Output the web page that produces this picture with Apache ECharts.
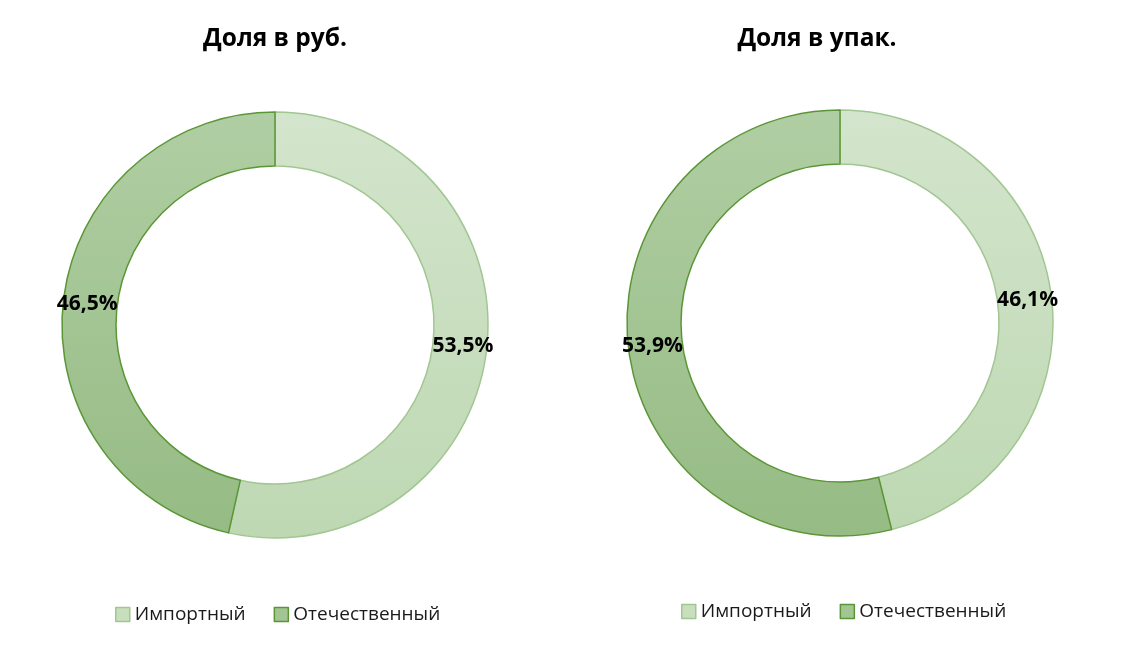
<!DOCTYPE html>
<html>
<head>
<meta charset="utf-8">
<script src="https://cdn.jsdelivr.net/npm/echarts@6/dist/echarts.min.js"></script>
<style>
  html, body { margin: 0; padding: 0; background: #fff; }
  #main { width: 1125px; height: 647px; }
</style>
</head>
<body>
<div id="main"></div>
<script>
var categories = ['Импортный', 'Отечественный'];
var titles = ['Доля в руб.', 'Доля в упак.'];
var rubValues = [53.5, 46.5];
var packValues = [46.1, 53.9];

var myChart = echarts.init(document.getElementById('main'));

function grad(top, bottom) {
    return new echarts.graphic.LinearGradient(0, 0, 0, 1, [
        { offset: 0, color: top },
        { offset: 1, color: bottom }
    ]);
}

var styles = [
    { color: grad('#d3e5cc', '#bed8b3'), borderColor: '#a2c692' },
    { color: grad('#b0cea3', '#96bb84'), borderColor: '#5a9636' }
];

function buildData(values) {
    return categories.map(function (name, i) {
        return {
            name: name,
            value: values[i],
            itemStyle: { color: styles[i].color, borderColor: styles[i].borderColor, borderWidth: 1.5 }
        };
    });
}

function fmt(p) {
    return p.value.toFixed(1).replace('.', ',') + '%';
}

var fontFamily = '"Open Sans", "Noto Sans", sans-serif';

var legendIcons = categories.map(function (name, i) {
    return {
        name: name,
        itemStyle: { color: i === 0 ? '#c8dfbe' : '#a3c594', borderColor: styles[i].borderColor, borderWidth: 1.5 }
    };
});

var titleStyle = { fontFamily: fontFamily, fontSize: 24.5, fontWeight: 'bold', color: '#000' };
var legendText = { fontFamily: fontFamily, fontSize: 19, color: '#1a1a1a' };

var option = {
    backgroundColor: '#fff',
    title: [
        { text: titles[0], left: 270, top: 22, textAlign: 'center', textStyle: titleStyle },
        { text: titles[1], left: 812, top: 22, textAlign: 'center', textStyle: titleStyle }
    ],
    legend: [
        { data: legendIcons, left: 110, top: 600, itemWidth: 14, itemHeight: 14, itemGap: 28,
          icon: 'rect', selectedMode: false, textStyle: legendText },
        { data: legendIcons, left: 676, top: 597, itemWidth: 14, itemHeight: 14, itemGap: 28,
          icon: 'rect', selectedMode: false, textStyle: legendText }
    ],
    series: [
        {
            type: 'pie',
            center: [275, 325],
            radius: [159, 213],
            startAngle: 90,
            clockwise: true,
            silent: true,
            label: { position: 'inside', formatter: fmt, fontFamily: fontFamily,
                     fontSize: 21, fontWeight: 'bold', color: '#000' },
            labelLine: { show: false },
            data: buildData(rubValues)
        },
        {
            type: 'pie',
            center: [840, 323],
            radius: [159, 213],
            startAngle: 90,
            clockwise: true,
            silent: true,
            label: { position: 'inside', formatter: fmt, fontFamily: fontFamily,
                     fontSize: 21, fontWeight: 'bold', color: '#000' },
            labelLine: { show: false },
            data: buildData(packValues)
        }
    ]
};

myChart.setOption(option);
</script>
</body>
</html>
